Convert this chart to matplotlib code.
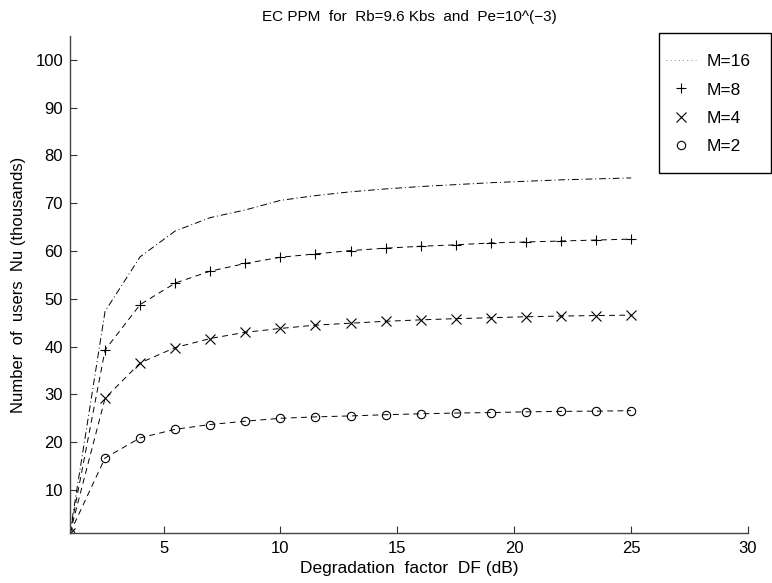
import matplotlib
matplotlib.use("Agg")
import matplotlib.pyplot as plt
from matplotlib.lines import Line2D
from matplotlib.patches import Rectangle

plt.rcParams['font.family'] = ['Liberation Sans', 'DejaVu Sans']

df = [1, 2.5, 4, 5.5, 7, 8.5, 10, 11.5, 13, 14.5, 16, 17.5, 19, 20.5, 22, 23.5, 25]
nu_m16 = [1, 47.4, 58.8, 64.2, 67.0, 68.6, 70.6, 71.6, 72.4, 73.0, 73.5, 73.9, 74.3, 74.6, 74.9, 75.1, 75.3]
nu_m8 = [1, 39.3, 48.8, 53.3, 55.8, 57.4, 58.7, 59.4, 60.1, 60.6, 61.0, 61.3, 61.7, 61.9, 62.1, 62.3, 62.5]
nu_m4 = [1, 29.2, 36.6, 39.8, 41.7, 43.0, 43.8, 44.5, 44.9, 45.3, 45.6, 45.85, 46.05, 46.25, 46.4, 46.5, 46.6]
nu_m2 = [1, 16.7, 20.9, 22.7, 23.7, 24.4, 25.0, 25.3, 25.5, 25.75, 25.95, 26.1, 26.2, 26.35, 26.45, 26.5, 26.6]
labels = ['M=16', 'M=8', 'M=4', 'M=2']
xticks = [5, 10, 15, 20, 25, 30]
yticks = [10, 20, 30, 40, 50, 60, 70, 80, 90, 100]

W, H = 772, 583
fig = plt.figure(figsize=(W / 100, H / 100), dpi=100)
ax = fig.add_axes([70 / W, 50 / H, 678 / W, 497 / H])

lw = 0.7
dash = (0, (6, 4.5))
ax.plot(df, nu_m16, color='black', lw=lw, linestyle=(0, (7, 3, 1, 3)))
ax.plot(df, nu_m8, color='black', lw=lw, linestyle=dash, marker='+', ms=7, mew=0.8)
ax.plot(df, nu_m4, color='black', lw=lw, linestyle=dash, marker='x', ms=6.5, mew=0.8)
ax.plot(df, nu_m2, color='black', lw=lw, linestyle=dash, marker='o', ms=6, mew=0.8,
        markerfacecolor='none')

ax.set_xlim(1, 30)
ax.set_ylim(1, 105)
ax.set_xticks(xticks)
ax.set_yticks(yticks)
ax.tick_params(direction='in', length=5, width=0.8, labelsize=12, colors='#333333', labelcolor='black')
ax.tick_params(axis='x', pad=6)
ax.tick_params(axis='y', pad=5)
for s in ['top', 'right']:
    ax.spines[s].set_visible(False)
for s in ['left', 'bottom']:
    ax.spines[s].set_color('#444444')
    ax.spines[s].set_linewidth(1.0)

ax.set_title('EC PPM  for  Rb=9.6 Kbs  and  Pe=10^(\u22123)', fontsize=11, pad=11)
ax.set_xlabel('Degradation  factor  DF (dB)', fontsize=12.5, labelpad=3)
ax.set_ylabel('Number  of  users  Nu (thousands)', fontsize=12, labelpad=7)

handles = [
    Line2D([], [], color='#666666', lw=0.6, linestyle=(0, (1, 4))),
    Line2D([], [], color='black', lw=0, marker='+', ms=7, mew=0.8),
    Line2D([], [], color='black', lw=0, marker='x', ms=6.5, mew=0.8),
    Line2D([], [], color='black', lw=0, marker='o', ms=6, mew=0.8, markerfacecolor='none'),
]
leg = fig.legend(handles, labels, loc='upper left', bbox_to_anchor=(666 / W, 1 - 54 / H),
                 fontsize=12.5, frameon=False, handlelength=1.72, handletextpad=0.63,
                 labelspacing=0.76, borderpad=0, borderaxespad=0)
fig.patches.append(Rectangle((659 / W, 1 - 173 / H), 112 / W, 140 / H, transform=fig.transFigure,
                             fill=False, edgecolor='black', lw=1.0))

fig.savefig('out.png', dpi=100)
